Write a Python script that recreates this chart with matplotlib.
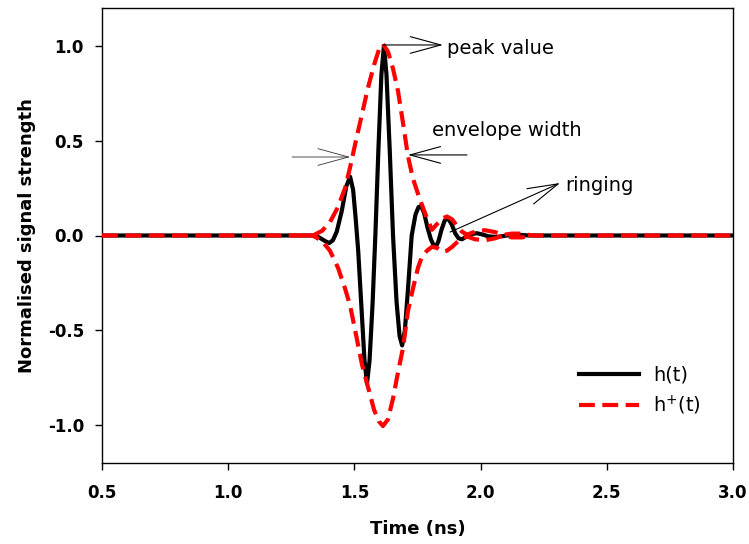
import matplotlib
matplotlib.use("Agg")
import matplotlib.pyplot as plt

# h(t): modulated pulse
h_time = [0.5, 1.30, 1.33, 1.36, 1.385, 1.40, 1.415, 1.43, 1.45, 1.468, 1.483,
          1.495, 1.505, 1.515, 1.528, 1.540, 1.550,
          1.560, 1.572, 1.583, 1.595, 1.607, 1.617,
          1.627, 1.640, 1.653, 1.667, 1.679, 1.689,
          1.700, 1.713, 1.727, 1.742, 1.754, 1.764,
          1.776, 1.790, 1.803, 1.815, 1.823,
          1.833, 1.845, 1.858, 1.871,
          1.885, 1.900, 1.913, 1.926,
          1.945, 1.965, 1.985, 2.005, 2.03, 2.06, 2.09, 2.12, 2.15, 2.19, 3.0]
h_value = [0, 0, 0, -0.01, -0.03, -0.04, -0.025, 0.02, 0.13, 0.26, 0.31,
           0.24, 0.09, -0.08, -0.38, -0.66, -0.78,
           -0.66, -0.36, 0.0, 0.45, 0.85, 1.0,
           0.85, 0.45, 0.0, -0.35, -0.53, -0.58,
           -0.50, -0.27, 0.0, 0.11, 0.15, 0.155,
           0.12, 0.04, -0.02, -0.055, -0.06,
           -0.03, 0.03, 0.08, 0.09,
           0.06, 0.01, -0.015, -0.02,
           -0.005, 0.008, 0.012, 0.006, -0.004, -0.008, -0.003, 0.003, 0.004, 0.0, 0.0]

# h+(t): envelope, upper and lower branch
env_time = [0.5, 1.30, 1.336, 1.372, 1.403, 1.435, 1.463, 1.483, 1.506, 1.530,
            1.554, 1.578, 1.597, 1.613, 1.633, 1.653, 1.673, 1.693, 1.712, 1.732,
            1.752, 1.768, 1.788, 1.807, 1.827, 1.847, 1.867, 1.887, 1.907, 1.926,
            1.946, 1.978, 2.017, 2.057, 2.089, 2.124, 2.164, 2.204, 3.0]
env_upper = [0, 0, 0.0, 0.025, 0.07, 0.15, 0.25, 0.36, 0.50, 0.64,
             0.78, 0.90, 0.98, 1.01, 0.97, 0.88, 0.76, 0.59, 0.42, 0.30,
             0.22, 0.16, 0.09, 0.03, 0.06, 0.09, 0.10, 0.085, 0.05, 0.02,
             0.005, 0.02, 0.028, 0.018, 0.003, 0.01, 0.01, 0.0, 0.0]
env_lower = [0, 0, 0.0, -0.03, -0.08, -0.17, -0.28, -0.37, -0.52, -0.68,
             -0.80, -0.92, -0.98, -1.005, -0.97, -0.86, -0.72, -0.59, -0.40, -0.28,
             -0.17, -0.11, -0.08, -0.06, -0.065, -0.085, -0.08, -0.06, -0.035, -0.015,
             -0.005, -0.02, -0.025, -0.015, 0.0, -0.01, -0.01, 0.0, 0.0]

x_ticks = [0.5, 1.0, 1.5, 2.0, 2.5, 3.0]
x_tick_labels = ["0.5", "1.0", "1.5", "2.0", "2.5", "3.0"]
y_ticks = [-1.0, -0.5, 0.0, 0.5, 1.0]
y_tick_labels = ["-1.0", "-0.5", "0.0", "0.5", "1.0"]

fig = plt.figure(figsize=(7.49, 5.44), dpi=100)
ax = fig.add_axes([102 / 749, 1 - 463 / 544, 631 / 749, 455 / 544])

dash = (0, (3.8, 1.8))
ax.plot(h_time, h_value, color="black", linewidth=3, label="h(t)", zorder=2)
ax.plot(env_time, env_upper, color="#ff0000", linewidth=3, linestyle=dash,
        label="h$^{+}$(t)", zorder=3)
# lower branch only where it leaves zero, so the flat parts keep one dash pattern
ax.plot(env_time[1:-1], env_lower[1:-1], color="#ff0000", linewidth=3, linestyle=dash,
        zorder=3)

ax.set_xlim(0.5, 3.0)
ax.set_ylim(-1.2, 1.2)
ax.set_xticks(x_ticks)
ax.set_xticklabels(x_tick_labels, fontsize=12, fontweight="bold")
ax.set_yticks(y_ticks)
ax.set_yticklabels(y_tick_labels, fontsize=12, fontweight="bold")
ax.tick_params(axis="x", direction="out", length=5, width=1, pad=10)
ax.tick_params(axis="y", direction="out", length=5, width=1, pad=8)
for s in ax.spines.values():
    s.set_linewidth(1)

ax.set_xlabel("Time (ns)", fontsize=13, fontweight="bold")
ax.set_ylabel("Normalised signal strength", fontsize=13, fontweight="bold")
ax.xaxis.set_label_coords(0.5, -0.125)
ax.yaxis.set_label_coords(-0.105, 0.5)

# annotations
head = "->,head_length=2.2,head_width=0.6"
arr = dict(arrowstyle=head, color="black", lw=0.8, shrinkA=0, shrinkB=0, mutation_scale=10)
ax.annotate("", xy=(1.851, 1.005), xytext=(1.613, 1.005), arrowprops=arr)
ax.text(1.867, 0.989, "peak value", fontsize=14, ha="left", va="center")

arr_thin = dict(arr, lw=0.6, color="#333333")
ax.annotate("", xy=(1.483, 0.414), xytext=(1.253, 0.414), arrowprops=arr_thin)
ax.annotate("", xy=(1.712, 0.425), xytext=(1.946, 0.425), arrowprops=arr)
ax.text(1.807, 0.556, "envelope width", fontsize=14, ha="left", va="center")

ax.annotate("", xy=(2.315, 0.277), xytext=(1.879, 0.018), arrowprops=arr)
ax.text(2.334, 0.266, "ringing", fontsize=14, ha="left", va="center")

ax.legend(loc="center left", bbox_to_anchor=(0.756, 0.158), frameon=False,
          fontsize=14, handlelength=3.1, handletextpad=0.7, labelspacing=0.45,
          borderpad=0, borderaxespad=0)

fig.savefig("out.png", dpi=100)
